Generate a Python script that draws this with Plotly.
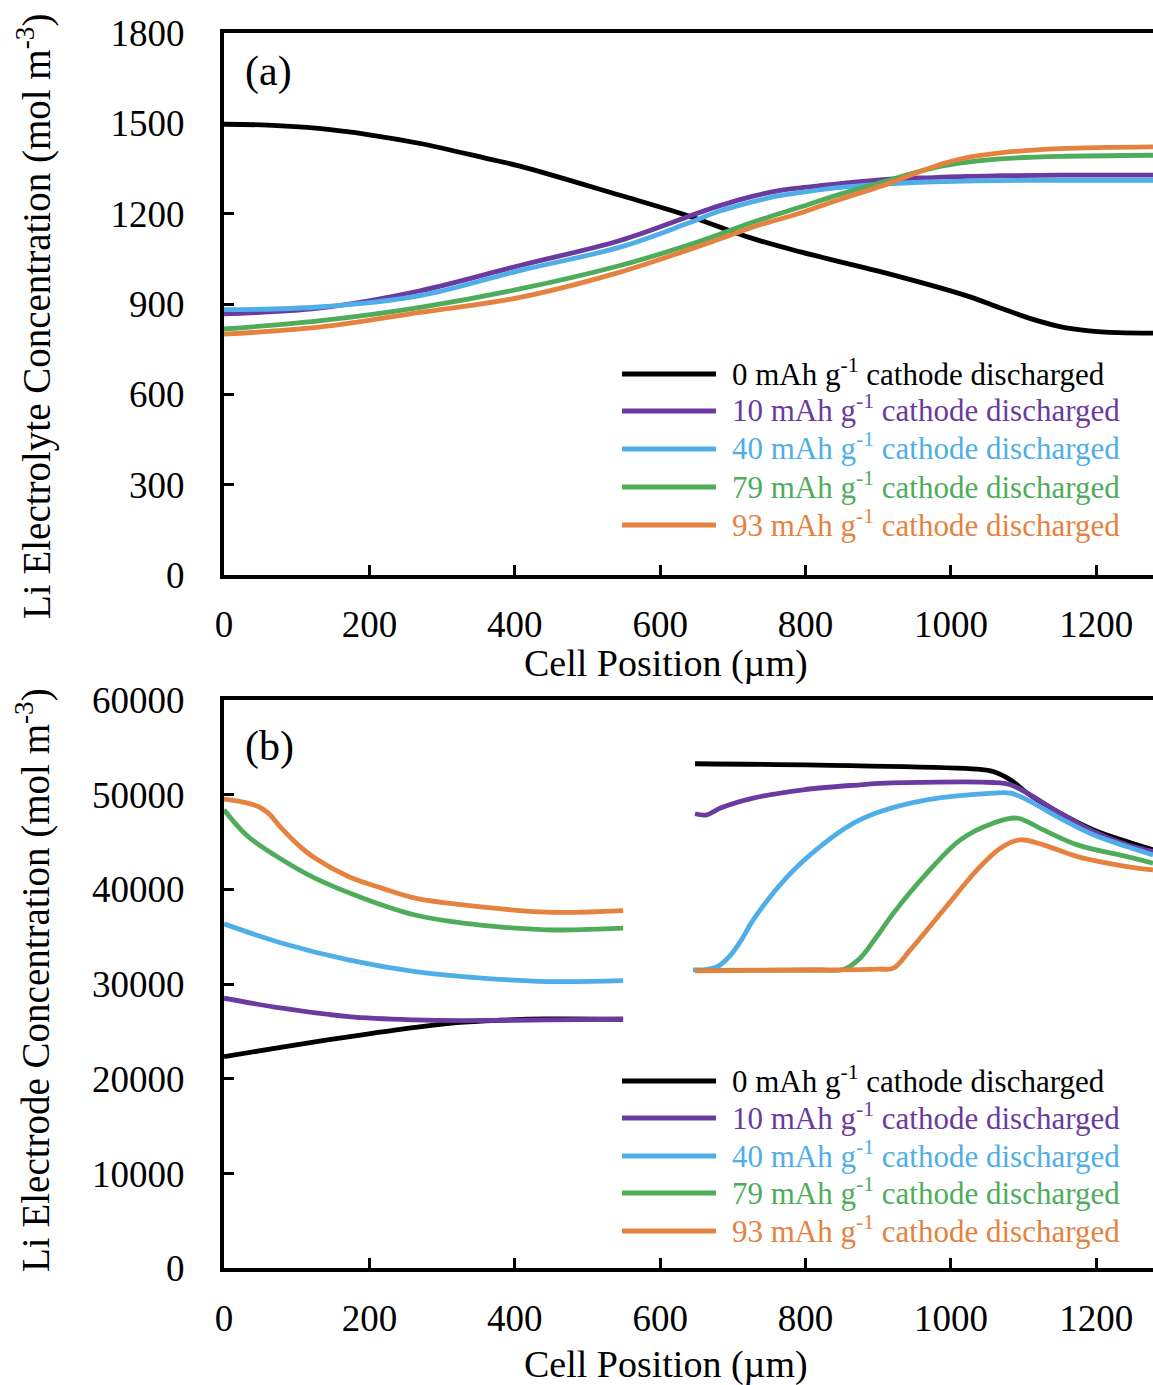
import plotly.graph_objects as go

# ---------------- data ----------------
# (a) electrolyte concentration, position in µm
a_black_x = [0, 60, 130, 200, 270, 362, 407, 545, 637, 728, 793, 848, 907, 1022, 1070, 1113, 1150, 1190, 1230, 1278]
a_black_y = [1497, 1494, 1483, 1462, 1433, 1383, 1358, 1261, 1194, 1117, 1073, 1040, 1005, 927, 885, 849, 825, 811, 805, 803]

a_col_x = [0, 130, 270, 407, 545, 637, 680, 728, 760, 793, 848, 907, 976, 1020, 1068, 1150, 1278]
a_purple_y = [867, 886, 944, 1028, 1111, 1189, 1225, 1258, 1275, 1286, 1300, 1313, 1320, 1324, 1326, 1328, 1328]
a_blue_y = [881, 890, 928, 1011, 1089, 1167, 1207, 1240, 1258, 1270, 1287, 1298, 1306, 1308, 1310, 1311, 1311]
a_green_y = [817, 844, 889, 950, 1028, 1094, 1130, 1172, 1197, 1222, 1265, 1306, 1352, 1370, 1382, 1390, 1394]
a_orange_y = [800, 823, 872, 922, 1006, 1078, 1114, 1156, 1179, 1202, 1248, 1294, 1356, 1385, 1402, 1416, 1422]

# (b) electrode concentration: anode region and cathode region (gap = separator)
b_black_x = [0, 80, 171, 263, 320, 380, 444, 549, None,
             648, 875, 1036, 1058, 1082, 1105, 1150, 1196, 1242, 1278]
b_black_y = [22360, 23350, 24450, 25450, 25950, 26200, 26330, 26300, None,
             53270, 53050, 52700, 52450, 51570, 50170, 48060, 46290, 45060, 44180]

b_purple_x = [0, 80, 171, 263, 329, 444, 549, None,
              648, 664, 683, 728, 797, 875, 903, 1058, 1082, 1105, 1150, 1196, 1242, 1278]
b_purple_y = [28520, 27470, 26580, 26230, 26160, 26230, 26300, None,
              47990, 47880, 48590, 49640, 50520, 51050, 51200, 51290, 51050, 50170, 48060, 46120, 44710, 44000]

b_blue_x = [0, 80, 171, 263, 329, 444, 549, None,
            645, 665, 680, 695, 712, 728, 775, 820, 866, 903, 967, 1058, 1082, 1105, 1150, 1196, 1242, 1278]
b_blue_y = [36370, 34330, 32570, 31330, 30800, 30280, 30380, None,
            31510, 31560, 31900, 32900, 34700, 36790, 41360, 44530, 47000, 48230, 49460, 50170, 50170, 49460, 47530, 45770, 44530, 43650]

b_green_x = [0, 33, 80, 125, 194, 263, 329, 444, 549, None,
             648, 750, 820, 852, 875, 898, 921, 967, 1013, 1058, 1091, 1127, 1174, 1242, 1278]
b_green_y = [48410, 45590, 43130, 41190, 39000, 37300, 36450, 35740, 35910, None,
             31450, 31480, 31500, 31560, 32750, 35030, 37500, 41720, 45240, 47000, 47530, 46290, 44710, 43470, 42780]

b_orange_x = [0, 25, 47, 61, 79, 102, 125, 171, 217, 263, 329, 444, 549, None,
              648, 800, 900, 921, 944, 990, 1036, 1068, 1095, 1127, 1174, 1242, 1278]
b_orange_y = [49540, 49250, 48760, 48060, 46470, 44710, 43310, 41370, 40140, 39080, 38370, 37600, 37770, None,
              31400, 31500, 31600, 31690, 33620, 37850, 42070, 44360, 45240, 44710, 43470, 42420, 42070]

labels = ["0 mAh g<sup>-1</sup> cathode discharged",
          "10 mAh g<sup>-1</sup> cathode discharged",
          "40 mAh g<sup>-1</sup> cathode discharged",
          "79 mAh g<sup>-1</sup> cathode discharged",
          "93 mAh g<sup>-1</sup> cathode discharged"]
colors = ["#000000", "#6B3AA0", "#4FAEE8", "#4EAC5B", "#E5823F"]

x_ticks = [0, 200, 400, 600, 800, 1000, 1200]

# ---------------- figure ----------------
W, H = 1153, 1385
FONT = "Liberation Serif"
fig = go.Figure()

top_sets = [(a_black_x, a_black_y), (a_col_x, a_purple_y), (a_col_x, a_blue_y),
            (a_col_x, a_green_y), (a_col_x, a_orange_y)]
bot_sets = [(b_black_x, b_black_y), (b_purple_x, b_purple_y), (b_blue_x, b_blue_y),
            (b_green_x, b_green_y), (b_orange_x, b_orange_y)]

for (xs, ys), c, name in zip(top_sets, colors, labels):
    fig.add_trace(go.Scatter(x=xs, y=ys, mode="lines", name=name,
                             line=dict(color=c, width=4.8, shape="spline", smoothing=1.0),
                             xaxis="x", yaxis="y", showlegend=False))
for (xs, ys), c, name in zip(bot_sets, colors, labels):
    fig.add_trace(go.Scatter(x=xs, y=ys, mode="lines", name=name, connectgaps=False,
                             line=dict(color=c, width=4.8, shape="spline", smoothing=1.0),
                             xaxis="x2", yaxis="y2", showlegend=False))


def py(px):
    return 1 - px / H


def xp(px):
    return (px - 224) / (W - 224)


axis_common = dict(showline=True, linewidth=4, linecolor="black", ticks="inside",
                   ticklen=10, tickwidth=3, tickcolor="black", showgrid=False,
                   zeroline=False, automargin=False,
                   tickfont=dict(family=FONT, size=37, color="black"))

fig.update_layout(
    width=W, height=H, plot_bgcolor="white", paper_bgcolor="white",
    margin=dict(l=224, r=0, t=0, b=0),
    xaxis=dict(domain=[0, 1], range=[0, 1278], tickvals=x_ticks, mirror=True,
               anchor="y", ticklabelstandoff=14, **axis_common),
    yaxis=dict(domain=[py(575), py(33)], range=[0, 1800], dtick=300, anchor="x",
               ticklabelstandoff=28, **axis_common),
    xaxis2=dict(domain=[0, 1], range=[0, 1278], tickvals=x_ticks, mirror=True,
                anchor="y2", ticklabelstandoff=14, **axis_common),
    yaxis2=dict(domain=[py(1268.4), py(700)], range=[0, 60000], dtick=10000, anchor="x2",
                tickformat="d", ticklabelstandoff=28, **axis_common),
)

# axis titles
for ty in (664, 1364):
    fig.add_annotation(text="Cell Position (µm)", xref="paper", yref="paper",
                       x=xp(666), y=py(ty), xanchor="center", yanchor="middle",
                       showarrow=False, font=dict(family=FONT, size=38, color="black"))
ytitle_font = dict(family=FONT, size=39, color="black")
fig.add_annotation(text="Li Electrolyte Concentration (mol m<sup>-3</sup>)",
                   xref="paper", yref="paper", x=xp(34), y=py(317), textangle=-90,
                   xanchor="center", yanchor="middle", showarrow=False, font=ytitle_font)
fig.add_annotation(text="Li Electrode Concentration (mol m<sup>-3</sup>)",
                   xref="paper", yref="paper", x=xp(34), y=py(980), textangle=-90,
                   xanchor="center", yanchor="middle", showarrow=False, font=ytitle_font)

# panel tags
for tag, ty in (("(a)", 72), ("(b)", 746)):
    fig.add_annotation(text=tag, xref="paper", yref="paper", x=xp(243), y=py(ty),
                       xanchor="left", yanchor="middle", showarrow=False,
                       font=dict(family=FONT, size=42, color="black"))

# legends (one per panel)
rows_top = [374, 411, 449, 487, 525]
rows_bot = [1081, 1118, 1156, 1193, 1231]

for rows in (rows_top, rows_bot):
    for ry, c, name in zip(rows, colors, labels):
        fig.add_shape(type="line", xref="paper", yref="paper",
                      x0=xp(622), x1=xp(716), y0=py(ry), y1=py(ry),
                      line=dict(color=c, width=4.8))
        fig.add_annotation(text=name, xref="paper", yref="paper", x=xp(730), y=py(ry - 2),
                           xanchor="left", yanchor="middle", showarrow=False,
                           font=dict(family=FONT, size=31, color=c))

fig.write_html("out.html")
